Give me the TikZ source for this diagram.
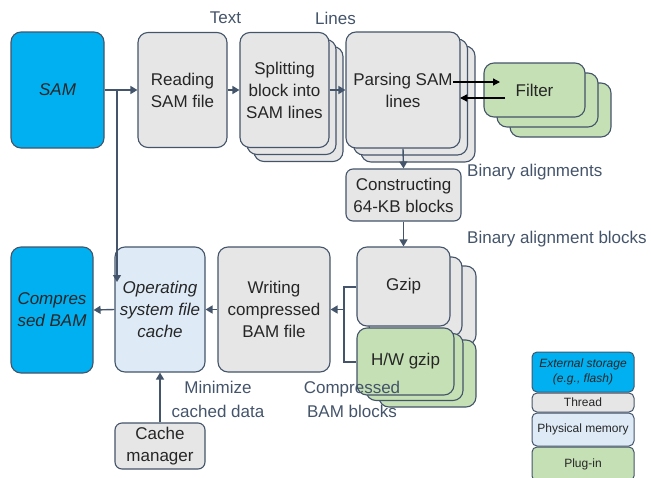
\documentclass[tikz,border=0pt]{standalone}
\usepackage{fontspec}
\setmainfont{Liberation Sans}
\usetikzlibrary{arrows.meta}
\definecolor{cyanbox}{HTML}{00B0F0}
\definecolor{graybox}{HTML}{E6E6E6}
\definecolor{bluebox}{HTML}{DEEBF7}
\definecolor{greenbox}{HTML}{C5E0B4}
\definecolor{edge}{HTML}{44546A}
\definecolor{lbl}{HTML}{44546A}
\begin{document}
\begin{tikzpicture}[x=1pt,y=-1pt,
  box/.style={draw=edge, line width=1.1pt, rounded corners=10pt, align=center,
    font=\fontsize{17}{22}\selectfont, text=black!85, inner sep=0pt},
  sbox/.style={box, rounded corners=7pt},
  gray/.style={fill=graybox},
  blue/.style={fill=bluebox},
  green/.style={fill=greenbox},
  cyan/.style={fill=cyanbox},
  lab/.style={font=\fontsize{17}{24}\selectfont, text=lbl, align=center, inner sep=0pt},
  leg/.style={draw=edge, line width=1pt, rounded corners=5pt, align=center,
    font=\fontsize{12}{15}\selectfont, text=black!85, inner sep=0pt, minimum width=102pt},
  arr/.style={draw=edge, line width=1.4pt, -{Triangle[length=7pt,width=8pt]}},
  blk/.style={draw=black, line width=1.3pt, -{Triangle[length=7pt,width=7pt]}},
  ln/.style={draw=edge, line width=1.4pt}
]
\useasboundingbox (0,0) rectangle (651,477);

% top row
\node[box, cyan, minimum width=93pt, minimum height=116pt, font=\fontsize{17}{22}\selectfont\itshape] (sam) at (57.5,90) {SAM};
\node[box, gray, minimum width=89pt, minimum height=115pt] (read) at (182.5,90) {Reading\\SAM file};

\node[box, gray, minimum width=89pt, minimum height=115pt] (split3) at (298.5,104) {};
\node[box, gray, minimum width=89pt, minimum height=115pt] (split2) at (291.5,97) {};
\node[box, gray, minimum width=89pt, minimum height=115pt] (split) at (284.5,90) {Splitting\\block into\\SAM lines};

\node[box, gray, minimum width=114pt, minimum height=116pt] (parse3) at (418,104) {};
\node[box, gray, minimum width=114pt, minimum height=116pt] (parse2) at (410.5,97) {};
\node[box, gray, minimum width=114pt, minimum height=116pt] (parse) at (403,90) {\hspace*{0pt}Parsing SAM\\lines};

\node[box, green, minimum width=101pt, minimum height=54pt] (filter3) at (560.5,110) {};
\node[box, green, minimum width=101pt, minimum height=54pt] (filter2) at (547.5,100) {};
\node[box, green, minimum width=101pt, minimum height=54pt] (filter) at (534.5,90) {Filter};

\node[sbox, gray, minimum width=115pt, minimum height=52pt] (cons) at (403.5,195) {Constructing\\64-KB blocks};

% gzip stack
\node[box, gray, minimum width=93pt, minimum height=79pt] (gzip3) at (429.5,305.5) {};
\node[box, gray, minimum width=93pt, minimum height=79pt] (gzip2) at (415.5,296.5) {};
\node[box, gray, minimum width=93pt, minimum height=79pt] (gzip) at (403.5,286.5) {Gzip};

\node[box, green, minimum width=97pt, minimum height=67pt] (hw3) at (427.5,373.5) {};
\node[box, green, minimum width=97pt, minimum height=67pt] (hw2) at (414.5,367) {};
\node[box, green, minimum width=97pt, minimum height=67pt] (hw) at (405.5,361.5) {H/W gzip};

% bottom row
\node[box, gray, minimum width=112pt, minimum height=125pt] (write) at (274,309.5) {Writing\\compressed\\BAM file};
\node[box, blue, minimum width=90pt, minimum height=125pt, font=\fontsize{17}{22}\selectfont\itshape] (os) at (160,309.5) {Operating\\system file\\cache};
\node[box, cyan, minimum width=82pt, minimum height=126pt, font=\fontsize{17}{22}\selectfont\itshape] (cbam) at (52,310) {Compres\\sed BAM};
\node[sbox, gray, minimum width=90pt, minimum height=46pt] (cm) at (160,446) {Cache\\manager};

% labels
\node[lab] (lText) at (225.5,18) {Text};
\node[lab] (lLines) at (335.5,18) {Lines};
\node[lab, anchor=west] (lBA) at (467,172) {Binary alignments};
\node[lab, anchor=west] (lBAB) at (467,239) {Binary alignment blocks};
\node[lab] (lMin) at (218,399.5) {Minimize\\cached data};
\node[lab] (lComp) at (352,399) {Compressed\\BAM blocks};

% legend
\node[leg, cyan, minimum height=40pt, font=\fontsize{12}{15}\selectfont\itshape] (lg1) at (583,372) {External storage\\(e.g., flash)};
\node[leg, gray, minimum height=19pt] (lg2) at (583,402.5) {Thread};
\node[leg, blue, minimum height=33pt] (lg3) at (583,429.5) {Physical memory};
\node[leg, green, minimum height=34pt] (lg4) at (583,464) {Plug-in};

% connectors
\draw[arr] (sam.east) -- (read.west);
\coordinate (j) at (117,90);
\coordinate (jend) at (117,282);
\draw[arr] (j) -- (jend);
\draw[arr] (read.east) -- (split.west);
\draw[arr] (split.east) -- (parse.west);
\coordinate (pf1) at (453,82);
\coordinate (pf2) at (500,82);
\coordinate (fp1) at (505,98);
\coordinate (fp2) at (460,98);
\draw[blk] (pf1) -- (pf2);
\draw[blk] (fp1) -- (fp2);
\draw[arr] (parse.south) -- (cons.north);
\draw[arr] (cons.south) -- (gzip.north);
\coordinate (br1) at (344,287);
\coordinate (br2) at (344,362);
\coordinate (brm) at (344,309.5);
\draw[ln] (gzip.west |- br1) -- (br1) -- (br2) -- (hw.west |- br2);
\draw[arr] (brm) -- (write.east);
\draw[arr] (write.west) -- (os.east);
\draw[arr] (os.west) -- (cbam.east);
\draw[arr] (cm.north) -- (os.south);
\end{tikzpicture}
\end{document}
